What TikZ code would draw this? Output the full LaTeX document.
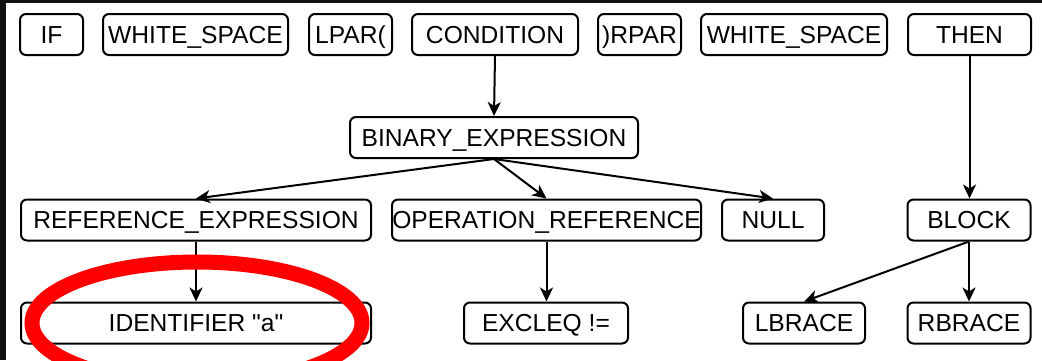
\documentclass[tikz,border=0pt]{standalone}
\usepackage{fontspec}
\setmainfont{Liberation Sans}[Ligatures=TeXOff]
\usetikzlibrary{arrows.meta}
\begin{document}
\begin{tikzpicture}[x=1pt,y=-1pt,
  tok/.style={draw=black, line width=2pt, rounded corners=6pt, fill=white,
    inner sep=0pt, minimum height=41pt, text height=17.5pt, text depth=0pt,
    font=\fontsize{24.6}{28}\selectfont, text=black},
  edge/.style={line width=2pt, -{Stealth[length=14pt,width=13pt,inset=4pt]}}
]
\useasboundingbox (0,0) rectangle (1042,360);
\fill[white] (0,0) rectangle (1042,360);
% dark frame strips
\fill[black!93] (0,0) rectangle (1042,3);
\fill[black!93] (0,0) rectangle (6,360);

% token row
\node[tok, minimum width=63pt]  (if)    at (51.5,34.5)  {IF};
\node[tok, minimum width=185pt] (ws1)   at (195.5,34.5) {WHITE\_SPACE};
\node[tok, minimum width=83pt]  (lpar)  at (350.5,34.5) {LPAR(};
\node[tok, minimum width=166pt] (cond)  at (495,34.5)   {CONDITION};
\node[tok, minimum width=83pt]  (rpar)  at (639.5,34.5) {)RPAR};
\node[tok, minimum width=186pt] (ws2)   at (794,34.5)   {WHITE\_SPACE};
\node[tok, minimum width=123pt] (then)  at (969.5,34.5) {THEN};

% expression level
\node[tok, minimum width=288pt] (bin)   at (494,137.5)  {BINARY\_EXPRESSION};

\node[tok, minimum width=350pt] (refx)  at (196,220)    {REFERENCE\_EXPRESSION};
\node[tok, minimum width=309pt] (opref) at (546.5,220)  {OPERATION\_REFERENCE};
\node[tok, minimum width=102pt] (null)  at (773,220)    {NULL};
\node[tok, minimum width=123pt] (block) at (969,220)    {BLOCK};

% leaves
\node[tok, minimum width=350pt] (ident) at (196,323)    {IDENTIFIER "a"};
\node[tok, minimum width=164pt] (excl)  at (546,323)    {EXCLEQ !=};
\node[tok, minimum width=122pt] (lbr)   at (804,323)    {LBRACE};
\node[tok, minimum width=123pt] (rbr)   at (969,323)    {RBRACE};

% tree edges
\draw[edge] (cond.south)  -- (bin.north);
\draw[edge] (bin.south)   -- (refx.north);
\draw[edge] (bin.south)   -- (opref.north);
\draw[edge] (bin.south)   -- (null.north);
\draw[edge] (then.south)  -- (then.south |- block.north);
\draw[edge] (refx.south)  -- (ident.north);
\draw[edge] (opref.south) -- (opref.south |- excl.north);
\draw[edge] (block.south) -- (lbr.north);
\draw[edge] (block.south) -- (rbr.north);

% highlight ring
\draw[red, line width=15pt] (197,323) ellipse [x radius=165, y radius=61];
\end{tikzpicture}
\end{document}
